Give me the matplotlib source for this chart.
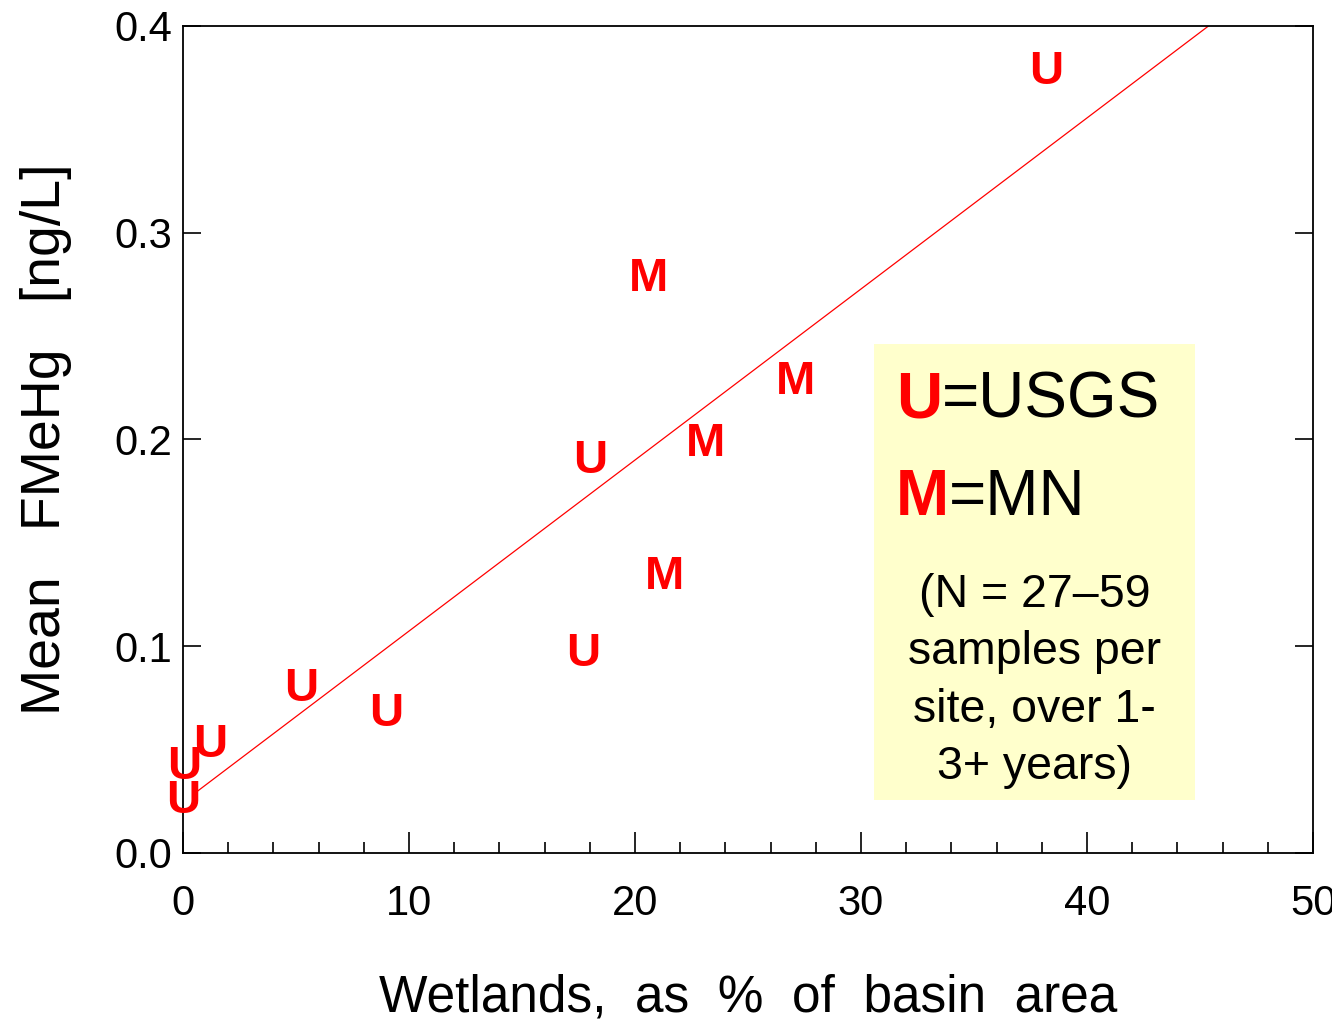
import matplotlib.pyplot as plt
from matplotlib.patches import Rectangle
from matplotlib.ticker import MultipleLocator

plt.rcParams['font.family'] = ['Liberation Sans', 'DejaVu Sans']

# wetland % of basin area, mean FMeHg (ng/L), source label
wetlands = [38.2, 20.6, 27.1, 23.1, 18.0, 21.3, 17.7, 8.98, 5.22, 1.19, 0.07, 0.0]
fmehg = [0.380, 0.280, 0.230, 0.200, 0.192, 0.136, 0.0986, 0.0696, 0.0817, 0.0546, 0.044, 0.0276]
source = ["U", "M", "M", "M", "U", "M", "U", "U", "U", "U", "U", "U"]

# regression line
fit_x = [0.53, 45.4]
fit_intercept = 0.0246
fit_slope = 0.00827

fig = plt.figure(figsize=(13.32, 10.30), dpi=100)
ax = fig.add_axes([183 / 1332, 1 - 853 / 1030, 1130 / 1332, 827.3 / 1030])

fit_y = [fit_intercept + fit_slope * x for x in fit_x]
ax.plot(fit_x, fit_y, color="red", lw=0.9)

for x, y, s in zip(wetlands, fmehg, source):
    ax.text(x, y, s, color="red", fontweight="bold", fontsize=34,
            ha="center", va="center_baseline")

ax.set_xlim(0, 50)
ax.set_ylim(0, 0.4)
ax.xaxis.set_major_locator(MultipleLocator(10))
ax.xaxis.set_minor_locator(MultipleLocator(2))
ax.yaxis.set_major_locator(MultipleLocator(0.1))
ax.yaxis.set_major_formatter(plt.FuncFormatter(lambda v, p: f"{v:.1f}"))
ax.xaxis.set_major_formatter(plt.FuncFormatter(lambda v, p: f"{v:.0f}"))

ax.tick_params(axis="x", which="major", direction="in", length=15, width=1.2,
               labelsize=30, pad=22, top=False)
ax.tick_params(axis="x", which="minor", direction="in", length=8, width=1.2, top=False)
ax.tick_params(axis="y", which="major", direction="in", length=13, width=1.2,
               labelsize=30, pad=8, right=True)
for sp in ax.spines.values():
    sp.set_linewidth(1.3)

ax.set_xlabel("Wetlands,  as  %  of  basin  area", fontsize=37, labelpad=36)
ax.set_ylabel("Mean   FMeHg   [ng/L]", fontsize=40, labelpad=30)

# key box
ax.add_patch(Rectangle((0.6115, 0.064), 0.2841, 0.5513, transform=ax.transAxes,
                       facecolor="#ffffcc", edgecolor="none", zorder=0))
t1 = ax.text(0.631, 0.527, "U", transform=ax.transAxes, color="red",
             fontweight="bold", fontsize=46, va="baseline")
ax.annotate("=USGS", xy=(1, 0), xycoords=t1, fontsize=46, va="bottom")
t2 = ax.text(0.631, 0.409, "M", transform=ax.transAxes, color="red",
             fontweight="bold", fontsize=46, va="baseline")
ax.annotate("=MN", xy=(1, 0), xycoords=t2, fontsize=46, va="bottom")
ax.text(0.7535, 0.339, "(N = 27\u201359\nsamples per\nsite, over 1-\n3+ years)",
        transform=ax.transAxes, fontsize=33.5, ha="center", va="top",
        multialignment="center", linespacing=1.4)

fig.savefig("out.png", dpi=100)
